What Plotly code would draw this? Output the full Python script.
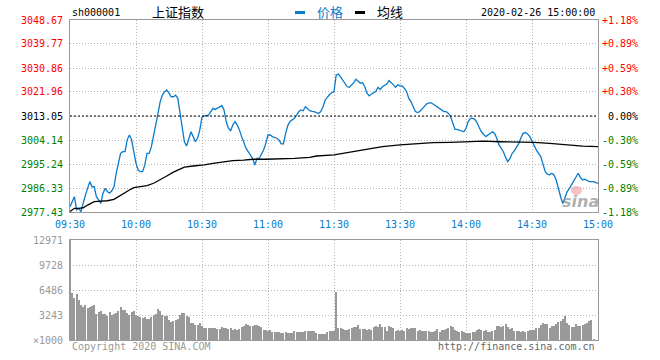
import plotly.graph_objects as go

# ---------------- data ----------------
prev_close = 3013.05

# trading minutes since 09:30 (lunch break removed: 120 = 11:30 = 13:00)
price_min = [0, 2, 3, 4, 5, 6, 7, 9, 10, 11,
             12, 13, 14, 15, 16, 17, 18, 19, 20, 21,
             22, 23, 24, 25, 26, 27, 28, 29, 30, 31,
             32, 33, 34, 35, 36, 37, 38, 39, 40, 41,
             42, 43, 44, 45, 46, 47, 48, 49, 50, 51,
             52, 53, 54, 55, 56, 57, 58, 59, 60, 61,
             63, 64, 65, 66, 67, 69, 70, 71, 72, 73,
             74, 75, 76, 77, 78, 79, 80, 81, 82, 83,
             84, 85, 86, 87, 88, 89, 90, 91, 92, 94,
             95, 96, 97, 98, 99, 100, 101, 102, 103, 104,
             105, 106, 107, 108, 109, 110, 111, 112, 113, 114,
             115, 116, 117, 118, 119, 120,
             121, 122, 123, 124, 125, 126, 127, 128, 129, 130,
             131, 132, 133, 134, 135, 136, 137, 138, 139, 140,
             141, 142, 144, 145, 146, 147, 148, 149, 150, 151,
             152, 153, 154, 155, 156, 157, 158, 159, 161, 162,
             163, 164, 165, 167, 168, 169, 170, 171, 172, 173,
             174, 175, 176, 178, 179, 180, 181, 182, 183, 184,
             185, 186, 187, 189, 190, 191, 192, 193, 194, 195,
             197, 198, 199, 200, 201, 202, 203, 204, 205, 206,
             207, 208, 209, 210, 211, 212, 214, 215, 216, 217,
             218, 219, 220, 221, 222, 223, 224, 225, 226, 227,
             228, 229, 230, 231, 232, 233, 234, 235, 236, 238,
             240]
price_val = [2979.4, 2983.1, 2978.2, 2978.8, 2977.6, 2980.7, 2983.7, 2988.7, 2986.8, 2986.8,
             2983.1, 2981.9, 2980.6, 2984.4, 2986.2, 2985.0, 2984.4, 2985.3, 2986.8, 2991.8,
             2995.5, 2999.2, 2999.8, 2999.8, 3004.2, 3006.0, 3004.2, 2999.2, 2995.5, 2993.0,
             2992.4, 2992.4, 2994.9, 2999.2, 2999.2, 3001.7, 3005.4, 3010.3, 3014.0, 3018.4,
             3020.8, 3022.1, 3022.7, 3021.5, 3020.2, 3020.2, 3020.8, 3019.6, 3014.0, 3007.9,
             3003.5, 3001.9, 3004.8, 3007.2, 3005.4, 3003.5, 3004.8, 3007.9, 3012.6, 3013.1,
             3013.4, 3014.7, 3015.9, 3015.5, 3015.9, 3016.9, 3015.3, 3011.0, 3008.5, 3007.6,
             3009.7, 3011.0, 3009.7, 3007.9, 3005.4, 3002.9, 3001.1, 2999.8, 2998.6, 2997.3,
             2994.9, 2997.3, 2997.3, 2998.6, 3000.4, 3002.9, 3006.0, 3006.0, 3005.4, 3004.8,
             3004.2, 3002.7, 3002.7, 3006.5, 3009.5, 3011.0, 3011.6, 3012.2, 3013.4, 3014.7,
             3015.3, 3015.0, 3016.5, 3015.9, 3015.0, 3014.8, 3014.7, 3014.3, 3014.0, 3014.7,
             3016.5, 3019.0, 3020.2, 3021.0, 3021.7, 3022.1,
             3028.3, 3028.6, 3027.6, 3026.4, 3025.2, 3023.9, 3023.7, 3024.5, 3025.4, 3026.7,
             3025.8, 3025.2, 3025.4, 3023.9, 3021.5, 3020.5, 3021.2, 3021.7, 3022.1, 3023.7,
             3022.9, 3023.9, 3024.9, 3026.2, 3025.2, 3024.6, 3023.7, 3024.6, 3024.2, 3024.2,
             3023.3, 3022.1, 3019.6, 3018.4, 3016.5, 3014.7, 3014.3, 3014.7, 3016.5, 3017.5,
             3017.8, 3018.0, 3017.5, 3016.5, 3015.9, 3015.3, 3014.7, 3014.7, 3014.0, 3012.8,
             3010.3, 3008.1, 3008.1, 3007.6, 3007.2, 3008.5, 3011.0, 3012.2, 3012.2, 3011.8,
             3010.6, 3008.8, 3007.2, 3005.4, 3006.0, 3006.9, 3007.2, 3006.6, 3004.8, 3002.3,
             2999.8, 2997.7, 2996.1, 2997.3, 2999.2, 3000.2, 3001.4, 3002.9, 3005.0, 3006.6,
             3006.9, 3006.4, 3005.4, 3003.9, 3002.3, 3000.4, 2998.0, 2994.9, 2992.4, 2991.5,
             2991.2, 2991.8, 2991.2, 2989.3, 2985.6, 2983.1, 2980.6, 2983.1, 2985.0, 2986.2,
             2987.5, 2989.3, 2990.5, 2991.8, 2990.3, 2989.3, 2989.6, 2989.1, 2988.7, 2988.7,
             2988.0]

avg_min = [0, 2, 4, 6, 8, 10, 11, 14, 17, 20,
           22, 24, 27, 29, 31, 35, 38, 41, 44, 47,
           50, 52, 56, 61, 65, 70, 74, 79, 83, 89,
           95, 102, 109, 112, 120, 127, 135, 142, 150, 158,
           165, 173, 180, 188, 195, 203, 211, 218, 226, 233,
           240]
avg_val = [2977.6, 2978.8, 2978.8, 2979.0, 2980.0, 2980.9, 2981.3, 2981.5, 2981.6, 2982.1,
           2983.1, 2984.4, 2985.6, 2986.5, 2986.8, 2987.2, 2988.1, 2989.3, 2990.8, 2992.2,
           2993.3, 2994.1, 2994.5, 2994.9, 2995.5, 2996.0, 2996.5, 2996.7, 2997.0, 2997.0,
           2997.1, 2997.3, 2997.7, 2998.2, 2998.6, 2999.6, 3000.7, 3001.7, 3002.3, 3002.7,
           3003.2, 3003.3, 3003.4, 3003.7, 3003.5, 3003.4, 3003.3, 3002.9, 3002.3, 3001.9,
           3001.7]

# volume (x1000), one bar per minute: morning from 09:30, afternoon from 13:01
vol_am = [12971,
          6140, 5491, 5967, 5189, 4540, 4238, 4540, 4108, 4324, 4410,
          4540, 3329, 3589, 3762, 3329, 3373, 3157, 3632, 3243, 3373,
          3546, 3805, 4238, 3892, 3892, 3546, 3243, 3632, 3719, 3243,
          3157, 3027, 2811, 2940, 2724, 2681, 2940, 3243, 3373, 3978,
          3805, 3243, 3157, 3157, 2594, 2378, 2465, 2594, 2681, 3243,
          3546, 3546, 3113, 3027, 2248, 2248, 1946, 1946, 2162, 1816,
          1600, 1513, 1513, 1513, 1513, 1513, 1384, 1384, 1643, 1513,
          1513, 1384, 1513, 1297, 1384, 1297, 1384, 1643, 1816, 2032,
          1946, 1816, 1816, 1946, 1946, 1816, 1643, 1297, 1297, 1167,
          1297, 1081, 1081, 995, 995, 865, 865, 995, 951, 865,
          951, 1167, 1081, 1081, 1081, 1081, 1167, 1211, 1211, 1211,
          1211, 865, 778, 778, 778, 778, 1081, 1211, 1211, 1211]
vol_pm = [6270, 1600, 1513, 1427, 1297, 1297, 1384, 1513, 1643, 1730,
          1946, 1427, 1427, 1427, 1297, 1427, 1297, 1643, 1816, 1643,
          2076, 1730, 1643, 1211, 1816, 1643, 1513, 1211, 1297, 1211,
          1297, 1211, 1513, 1384, 1513, 1600, 1513, 1211, 1297, 1211,
          1167, 1167, 1211, 1081, 1081, 1167, 1427, 1081, 1297, 1297,
          1384, 1513, 1816, 1643, 1297, 1211, 1081, 1211, 1081, 951,
          865, 951, 995, 1081, 1297, 1384, 1297, 1167, 1297, 1081,
          1081, 1211, 1297, 1816, 1816, 1643, 1816, 2032, 1730, 1384,
          1513, 1167, 1167, 1167, 1081, 1167, 1081, 1167, 1297, 1297,
          1297, 1513, 1513, 1946, 2162, 2076, 2076, 1513, 1816, 1816,
          2076, 2378, 2508, 2681, 3157, 2162, 1946, 1730, 1643, 2076,
          1816, 1816, 1946, 2032, 2162, 2508, 2594, 130]

price_ticks = [2977.43, 2986.33, 2995.24, 3004.14, 3013.05, 3021.96, 3030.86, 3039.77, 3048.67]
pct_labels = ["-1.18%", "-0.89%", "-0.59%", "-0.30%", "0.00%", "+0.30%", "+0.59%", "+0.89%", "+1.18%"]
time_ticks = [0, 30, 60, 90, 120, 150, 180, 210, 240]
time_labels = ["09:30", "10:00", "10:30", "11:00", "11:30", "13:30", "14:00", "14:30", "15:00"]
vol_ticks = [0, 3243, 6486, 9728, 12971]
vol_labels = ["\u00d71000", "3243", "6486", "9728", "12971"]

# ---------------- style ----------------
W, H = 660, 360
BLUE = "#0a7acb"
RED = "#ff0000"
GREEN = "#008000"
GRAY = "#999999"
GRID = "#b4b4b4"
MONO = "DejaVu Sans Mono"
CJK = "Noto Sans CJK SC"


def px(x):
    return x / W


def py(y):
    return 1 - y / H


X0, X1 = 70, 598
fig = go.Figure()

fig.add_trace(go.Scatter(x=price_min, y=price_val, mode="lines",
                         line=dict(color=BLUE, width=1.3), xaxis="x", yaxis="y",
                         hoverinfo="skip"))
fig.add_trace(go.Scatter(x=avg_min, y=avg_val, mode="lines",
                         line=dict(color="#000000", width=1.3), xaxis="x", yaxis="y",
                         hoverinfo="skip"))

vol_x = list(range(len(vol_am))) + [121 + i for i in range(len(vol_pm))]
fig.add_trace(go.Bar(x=vol_x, y=vol_am + vol_pm, width=0.45,
                     marker=dict(color=GRAY, line=dict(width=0)),
                     xaxis="x2", yaxis="y2", hoverinfo="skip"))

axis_common = dict(showgrid=True, gridcolor=GRID, griddash="1px,2px", gridwidth=1,
                   showline=True, linecolor=GRAY, linewidth=1, mirror=True,
                   zeroline=False, showticklabels=False, ticks="", fixedrange=True)

fig.update_layout(
    width=W, height=H,
    margin=dict(l=0, r=0, t=0, b=0),
    paper_bgcolor="white", plot_bgcolor="white",
    showlegend=False, bargap=0,
    xaxis=dict(domain=[px(X0), px(X1)], range=[0, 240], tickvals=time_ticks,
               anchor="y", **axis_common),
    yaxis=dict(domain=[py(212), py(20)], range=[price_ticks[0], price_ticks[-1]],
               tickvals=price_ticks, anchor="x", **axis_common),
    xaxis2=dict(domain=[px(X0), px(X1)], range=[0, 240], tickvals=time_ticks,
                anchor="y2", **axis_common),
    yaxis2=dict(domain=[py(340), py(240)], range=[0, vol_ticks[-1]],
                tickvals=vol_ticks, anchor="x2", **axis_common),
)

# previous close line
fig.add_shape(type="line", xref="x", yref="y", x0=0, x1=240, y0=prev_close, y1=prev_close,
              line=dict(color="#000000", width=1, dash="2px,2px"))

ann = []
# price labels (left) and percent labels (right)
for v, p in zip(price_ticks, pct_labels):
    if abs(v - prev_close) < 1e-6:
        c = "#000000"
    elif v > prev_close:
        c = RED
    else:
        c = GREEN
    ann.append(dict(x=px(65), y=v, xref="paper", yref="y", text=f"{v:.2f}",
                    xanchor="right", yanchor="middle", showarrow=False,
                    font=dict(family=MONO, size=10, color=c)))
    ann.append(dict(x=px(640), y=v, xref="paper", yref="y", text=p,
                    xanchor="right", yanchor="middle", showarrow=False,
                    font=dict(family=MONO, size=10, color=c)))
# time labels
for t, lab in zip(time_ticks, time_labels):
    ann.append(dict(x=t, y=py(224), xref="x", yref="paper", text=lab,
                    xanchor="center", yanchor="middle", showarrow=False,
                    font=dict(family=MONO, size=10, color=BLUE)))
# volume labels
for v, lab in zip(vol_ticks, vol_labels):
    ann.append(dict(x=px(65), y=v, xref="paper", yref="y2", text=lab,
                    xanchor="right", yanchor="middle", showarrow=False,
                    font=dict(family=MONO, size=10, color=GRAY)))
# header
ann.append(dict(x=px(70), y=py(13), xref="paper", yref="paper", text="sh000001",
                xanchor="left", yanchor="middle", showarrow=False,
                font=dict(family=MONO, size=10, color="#000000")))
ann.append(dict(x=px(150), y=py(12), xref="paper", yref="paper", text="上证指数",
                xanchor="left", yanchor="middle", showarrow=False,
                font=dict(family=CJK, size=13, color="#000000")))
ann.append(dict(x=px(315), y=py(12), xref="paper", yref="paper", text="价格",
                xanchor="left", yanchor="middle", showarrow=False,
                font=dict(family=CJK, size=13, color=BLUE)))
ann.append(dict(x=px(375), y=py(12), xref="paper", yref="paper", text="均线",
                xanchor="left", yanchor="middle", showarrow=False,
                font=dict(family=CJK, size=13, color="#000000")))
ann.append(dict(x=px(597), y=py(13), xref="paper", yref="paper", text="2020-02-26 15:00:00",
                xanchor="right", yanchor="middle", showarrow=False,
                font=dict(family=MONO, size=10, color="#000000")))
# footer
ann.append(dict(x=px(70), y=py(346), xref="paper", yref="paper", text="Copyright 2020 SINA.COM",
                xanchor="left", yanchor="middle", showarrow=False,
                font=dict(family=MONO, size=10, color=GRAY)))
ann.append(dict(x=px(597), y=py(346), xref="paper", yref="paper", text="http://finance.sina.com.cn",
                xanchor="right", yanchor="middle", showarrow=False,
                font=dict(family=MONO, size=10, color="#666666")))
# watermark
ann.append(dict(x=px(580), y=py(201), xref="paper", yref="paper", text="<b><i>sina</i></b>",
                xanchor="center", yanchor="middle", showarrow=False,
                font=dict(family="DejaVu Sans", size=16, color="rgba(150,150,150,0.75)")))
fig.update_layout(annotations=ann)

# legend swatches and watermark eye
fig.add_shape(type="line", xref="paper", yref="paper", x0=px(295), x1=px(305),
              y0=py(12.5), y1=py(12.5), line=dict(color=BLUE, width=3))
fig.add_shape(type="line", xref="paper", yref="paper", x0=px(355), x1=px(365),
              y0=py(12.5), y1=py(12.5), line=dict(color="#000000", width=3))
fig.add_shape(type="circle", xref="paper", yref="paper", x0=px(571), x1=px(582),
              y0=py(195), y1=py(186), fillcolor="rgba(235,120,120,0.45)",
              line=dict(width=0))

fig.write_html("out.html", config={"displayModeBar": False},
               post_script="document.body.style.margin='0px';document.body.style.overflow='hidden';")
